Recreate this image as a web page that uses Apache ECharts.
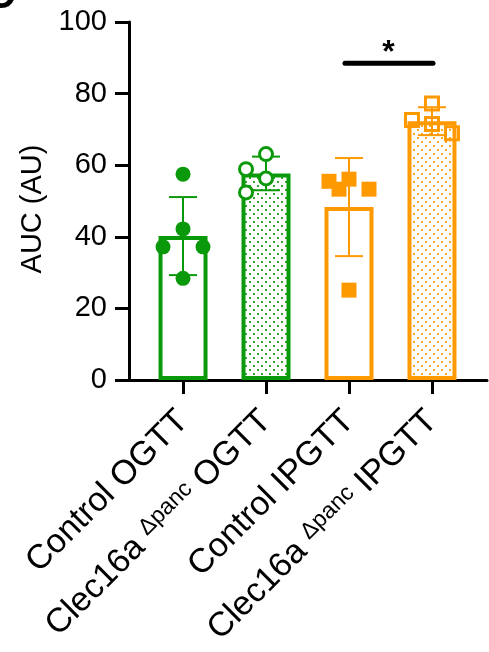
<!DOCTYPE html>
<html><head><meta charset="utf-8">
<script src="https://cdn.jsdelivr.net/npm/echarts@6/dist/echarts.min.js"></script>
<style>html,body{margin:0;padding:0;background:#fff}#c{width:489px;height:652px}</style>
</head><body><div id="c"></div>
<script>
// ---- data ----
const categories = ['Control OGTT', 'Clec16a Δpanc OGTT', 'Control IPGTT', 'Clec16a Δpanc IPGTT'];
const barMeans = [40.2, 57.7, 48.3, 72.3];
const barSD = [10.9, 4.7, 13.7, 3.9];
const pointsControlOGTT = [57.5, 42.2, 37.2, 37.2, 28.4];
const pointsClecOGTT = [63.1, 58.9, 56.3, 52.4];
const pointsControlIPGTT = [56.1, 55.5, 53.3, 53.3, 25.1];
const pointsClecIPGTT = [77.2, 72.6, 71.5, 68.9];
const yTicks = [0, 20, 40, 60, 80, 100];
const sigPair = [2, 3];
const sigLevel = 88.5;
const sigText = '*';
const yTitle = 'AUC (AU)';
const panelLetter = 'C';

// ---- styling ----
const GREEN = '#0a990a', ORANGE = '#ff9900';
const groupColors = [GREEN, GREEN, ORANGE, ORANGE];
const groupFilled = [false, true, false, true]; // dotted pattern fill
const markerKind = ['circleFilled', 'circleOpen', 'squareFilled', 'squareOpen'];
const FONT = '"Liberation Sans", Arial, Helvetica, sans-serif';

function makePattern(color) {
  const c = document.createElement('canvas');
  c.width = 8; c.height = 8;
  const g = c.getContext('2d');
  g.fillStyle = '#fff'; g.fillRect(0, 0, 8, 8);
  g.fillStyle = color; g.globalAlpha = 0.85;
  g.fillRect(1, 1, 2, 2); g.fillRect(5, 5, 2, 2);
  return c;
}

const pointGroups = [pointsControlOGTT, pointsClecOGTT, pointsControlIPGTT, pointsClecIPGTT];
const pointData = [];
pointGroups.forEach((arr, g) => arr.forEach(v => pointData.push([g, v])));

// simple beeswarm layout (pixel offsets) computed from the axis scale
let layoutCache = null;
function computeLayout(api) {
  const offs = [];
  const placedByGroup = {};
  const cands = [0, -20, 20, -10, 10];
  const D = 19;
  pointData.forEach((d) => {
    const g = d[0];
    const y = api.coord([g, d[1]])[1];
    const placed = placedByGroup[g] || (placedByGroup[g] = []);
    let best = null, bestMin = -1;
    for (const c of cands) {
      let mn = Infinity;
      placed.forEach(p => { mn = Math.min(mn, Math.hypot(p[0] - c, p[1] - y)); });
      if (mn >= D) { best = c; bestMin = Infinity; break; }
      if (mn > bestMin) { bestMin = mn; best = c; }
    }
    placed.push([best, y]);
    offs.push(best);
  });
  return offs;
}

function catLabel(i) {
  return categories[i].replace('Δpanc', '{sup|Δpanc}');
}

const chart = echarts.init(document.getElementById('c'), null, { renderer: 'canvas' });

const option = {
  animation: false,
  backgroundColor: '#fff',
  grid: { left: 129, right: 2, top: 22, bottom: 272, containLabel: false },
  xAxis: {
    type: 'value', min: -0.651, max: 3.663,
    axisLine: { show: true, onZero: false, lineStyle: { color: '#000', width: 3 } },
    axisTick: { show: true, customValues: [0, 1, 2, 3], length: 14, lineStyle: { color: '#000', width: 3 } },
    axisLabel: {
      show: true, customValues: [0, 1, 2, 3], rotate: 45, margin: 36,
      fontSize: 34, color: '#000', fontFamily: FONT,
      formatter: (v) => catLabel(Math.round(v)),
      rich: { sup: { fontSize: 23, color: '#000', fontFamily: FONT, verticalAlign: 'top' } }
    },
    splitLine: { show: false }
  },
  yAxis: {
    type: 'value', min: yTicks[0], max: yTicks[yTicks.length - 1], interval: yTicks[1] - yTicks[0],
    name: yTitle, nameLocation: 'middle', nameGap: 76, nameRotate: 90,
    nameTextStyle: { fontSize: 29, color: '#000', fontFamily: FONT, padding: [0, 16, 0, 0] },
    axisLine: { show: true, onZero: false, lineStyle: { color: '#000', width: 3 } },
    axisTick: { show: true, length: 14, lineStyle: { color: '#000', width: 3 } },
    axisLabel: { fontSize: 29, color: '#000', fontFamily: FONT, margin: 22 },
    splitLine: { show: false }
  },
  graphic: [{
    type: 'text', x: -14, y: -23,
    style: { text: panelLetter, fontSize: 40, fontWeight: 'bold', fill: '#000', fontFamily: FONT }
  }],
  series: [
    {
      type: 'bar', barWidth: 49, z: 2,
      data: barMeans.map((m, i) => ({
        value: [i, m],
        itemStyle: {
          color: groupFilled[i] ? { image: makePattern(groupColors[i]), repeat: 'repeat' } : '#fff',
          borderColor: groupColors[i], borderWidth: 4
        }
      }))
    },
    {
      type: 'custom', z: 3,
      data: barMeans.map((m, i) => [i, m, barSD[i]]),
      renderItem: (params, api) => {
        const i = api.value(0), m = api.value(1), s = api.value(2);
        const top = api.coord([i, m + s]);
        const bot = api.coord([i, m - s]);
        const col = groupColors[i];
        const st = { stroke: col, lineWidth: 2 };
        return {
          type: 'group', children: [
            { type: 'line', shape: { x1: top[0], y1: top[1], x2: bot[0], y2: bot[1] }, style: st },
            { type: 'line', shape: { x1: top[0] - 14, y1: top[1], x2: top[0] + 14, y2: top[1] }, style: st },
            { type: 'line', shape: { x1: bot[0] - 14, y1: bot[1], x2: bot[0] + 14, y2: bot[1] }, style: st }
          ]
        };
      }
    },
    {
      type: 'custom', z: 4,
      data: pointData,
      renderItem: (params, api) => {
        if (params.dataIndexInside === 0 || !layoutCache) layoutCache = computeLayout(api);
        const g = api.value(0), v = api.value(1);
        const p = api.coord([g, v]);
        const x = p[0] + layoutCache[params.dataIndex], y = p[1];
        const col = groupColors[g];
        const kind = markerKind[g];
        if (kind === 'circleFilled') return { type: 'circle', shape: { cx: x, cy: y, r: 7.5 }, style: { fill: col } };
        if (kind === 'circleOpen') return { type: 'circle', shape: { cx: x, cy: y, r: 6.5 }, style: { fill: '#fff', stroke: col, lineWidth: 3 } };
        if (kind === 'squareFilled') return { type: 'rect', shape: { x: x - 7.5, y: y - 7.5, width: 15, height: 15 }, style: { fill: col } };
        return { type: 'rect', shape: { x: x - 6.5, y: y - 6.5, width: 13, height: 13 }, style: { fill: 'none', stroke: col, lineWidth: 3 } };
      }
    },
    {
      type: 'custom', z: 5,
      data: [[sigPair[0], sigPair[1], sigLevel]],
      renderItem: (params, api) => {
        const a = api.coord([api.value(0), api.value(2)]);
        const b = api.coord([api.value(1), api.value(2)]);
        return {
          type: 'group', children: [
            { type: 'line', shape: { x1: a[0] - 4, y1: a[1], x2: b[0] + 1, y2: b[1] },
              style: { stroke: '#000', lineWidth: 5, lineCap: 'round' } },
            { type: 'text', x: (a[0] + b[0]) / 2 - 2, y: a[1] + 6,
              style: { text: sigText, fontSize: 32, fontWeight: 'bold', fontFamily: FONT, fill: '#000', align: 'center', verticalAlign: 'bottom' } }
          ]
        };
      }
    }
  ]
};
chart.setOption(option);
</script>
</body></html>
